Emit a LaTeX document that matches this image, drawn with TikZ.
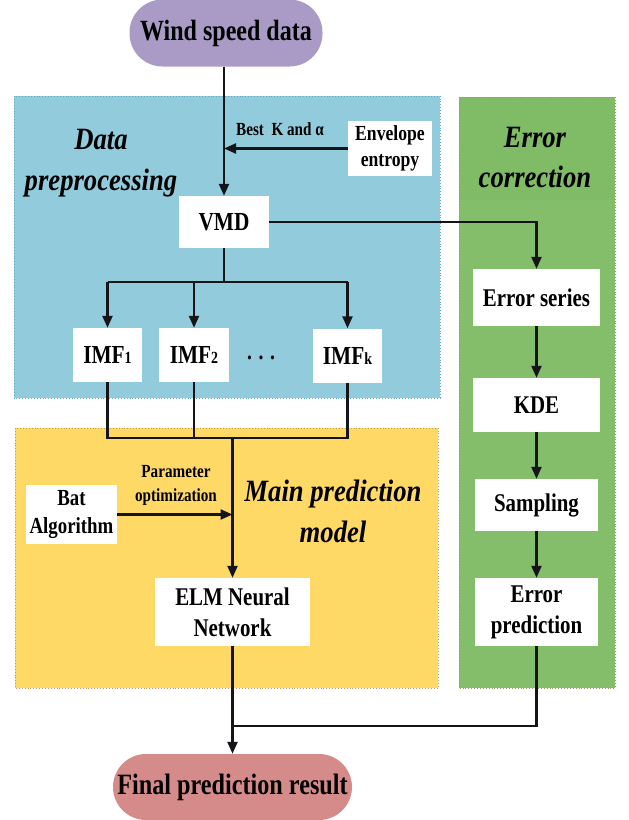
\documentclass[tikz,border=0pt]{standalone}
\usepackage{fontspec}
\setmainfont{Liberation Serif}
\newfontfamily\bfn[FakeStretch=0.82]{Liberation Serif Bold}
\newfontfamily\bfit[FakeStretch=0.86]{Liberation Serif Bold Italic}
\usetikzlibrary{arrows.meta}
\definecolor{cblue}{RGB}{146,204,220}
\definecolor{cblueb}{RGB}{95,170,195}
\definecolor{cyel}{RGB}{255,217,102}
\definecolor{cyelb}{RGB}{190,155,90}
\definecolor{cgreen}{RGB}{132,190,106}
\definecolor{cgreentop}{RGB}{128,187,102}
\definecolor{cgreenb}{RGB}{150,155,95}
\definecolor{cpurp}{RGB}{169,155,198}
\definecolor{cpink}{RGB}{214,139,139}
\definecolor{cline}{RGB}{20,20,25}
\tikzset{
  wbox/.style={fill=white, draw=none, inner sep=0pt, align=center, text=black},
  pill/.style={rounded corners=33pt, draw=none, inner sep=0pt, align=center},
  conn/.style={draw=cline, line width=2.3pt},
  arr/.style={conn, -{Triangle[length=12pt,width=10pt]}},
  region/.style={dotted, line width=0.9pt},
}
\begin{document}
\begin{tikzpicture}[x=1pt,y=-1pt]
\useasboundingbox (0,0) rectangle (629,820);
% regions
\fill[cblue] (14,96) rectangle (440,398);
\draw[region, draw=cblueb] (14,96) rectangle (440,398);
\fill[cyel] (15,428) rectangle (438,688);
\draw[region, draw=cyelb] (15,428) rectangle (438,688);
\fill[cgreen] (459,97) rectangle (615,688);
\fill[cgreentop] (459,97) rectangle (615,200);
\draw[region, draw=cgreenb] (459,97) rectangle (615,688);
% region titles
\node[align=center, font={\bfit\fontsize{31}{41}\selectfont}] (tdata) at (101,163) {Data\\preprocessing};
\node[align=center, font={\bfit\fontsize{31}{40}\selectfont}] (terr) at (535,157) {Error\\correction};
\node[align=center, font={\bfit\fontsize{31}{41}\selectfont}] (tmain) at (333,511) {Main prediction\\model};
% nodes
\node[pill, fill=cpurp, minimum width=193pt, minimum height=67pt, font={\bfn\fontsize{29.3}{31}\selectfont}] (wind) at (226,33) {Wind speed data};
\node[wbox, minimum width=90pt, minimum height=52pt, font={\bfn\fontsize{26}{28}\selectfont}] (vmd) at (224,222) {VMD};
\node[wbox, minimum width=84pt, minimum height=55pt, font={\bfn\fontsize{21.5}{26}\selectfont}] (env) at (390,148.5) {Envelope\\entropy};
\node[font={\bfn\fontsize{18.5}{20}\selectfont}] (lbest) at (280,129) {Best\ \ K and α};
\node[wbox, minimum width=69pt, minimum height=54pt, font={\bfn\fontsize{26}{28}\selectfont}] (imf1) at (107.5,355) {IMF{\fontsize{17}{19}\selectfont 1}};
\node[wbox, minimum width=70pt, minimum height=54pt, font={\bfn\fontsize{26}{28}\selectfont}] (imf2) at (194,355) {IMF{\fontsize{17}{19}\selectfont 2}};
\node[wbox, minimum width=69pt, minimum height=54pt, font={\bfn\fontsize{26}{28}\selectfont}] (imfk) at (347.5,355.5) {IMF{\fontsize{17}{19}\selectfont k}};
\node[font={\bfn\fontsize{24}{26}\selectfont}] (dots) at (261,358) {. . .};
\node[wbox, minimum width=127pt, minimum height=57pt, font={\bfn\fontsize{25.5}{27}\selectfont}] (errs) at (536.5,297.5) {Error series};
\node[wbox, minimum width=127pt, minimum height=54pt, font={\bfn\fontsize{25.5}{27}\selectfont}] (kde) at (536.5,405) {KDE};
\node[wbox, minimum width=123pt, minimum height=52pt, font={\bfn\fontsize{25.5}{27}\selectfont}] (samp) at (536.5,505) {Sampling};
\node[wbox, minimum width=123pt, minimum height=68pt, font={\bfn\fontsize{25.5}{31}\selectfont}] (errp) at (536.5,612) {Error\\prediction};
\node[wbox, minimum width=91pt, minimum height=59pt, font={\bfn\fontsize{23}{28}\selectfont}] (bat) at (71.5,514.5) {Bat\\Algorithm};
\node[font={\bfn\fontsize{18.5}{24}\selectfont}, align=center] (lpar) at (176,485) {Parameter\\optimization};
\node[wbox, minimum width=155pt, minimum height=68pt, font={\bfn\fontsize{25.5}{31}\selectfont}] (elm) at (232.5,612) {ELM Neural\\Network};
\node[pill, fill=cpink, minimum width=239pt, minimum height=66pt, font={\bfn\fontsize{29.5}{31}\selectfont}] (final) at (232.5,787) {Final prediction result};
% connectors
\draw[arr] (wind.south -| vmd.north) -- (vmd.north);
\draw[arr] (env.west) -- (env.west -| vmd.north);
\draw[arr] (vmd.east) -| (errs.north);
\coordinate (busa) at (224,282);
\draw[conn] (vmd.south) -- (busa);
\draw[conn] (imf1.north |- busa) -- (imfk.north |- busa);
\draw[arr] (imf1.north |- busa) -- (imf1.north);
\draw[arr] (imf2.north |- busa) -- (imf2.north);
\draw[arr] (imfk.north |- busa) -- (imfk.north);
\coordinate (busb) at (232.5,438);
\draw[conn] (imf1.south) -- (imf1.south |- busb) -- (imfk.south |- busb) -- (imfk.south);
\draw[conn] (imf2.south) -- (imf2.south |- busb);
\draw[arr] (busb) -- (elm.north);
\draw[arr] (bat.east) -- (bat.east -| elm.north);
\draw[arr] (errs.south) -- (kde.north);
\draw[arr] (kde.south) -- (samp.north);
\draw[arr] (samp.south) -- (errp.north);
\coordinate (busc) at (232.5,726);
\draw[arr] (elm.south) -- (final.north);
\draw[conn] (errp.south) -- (errp.south |- busc) -- (busc);
\end{tikzpicture}
\end{document}
